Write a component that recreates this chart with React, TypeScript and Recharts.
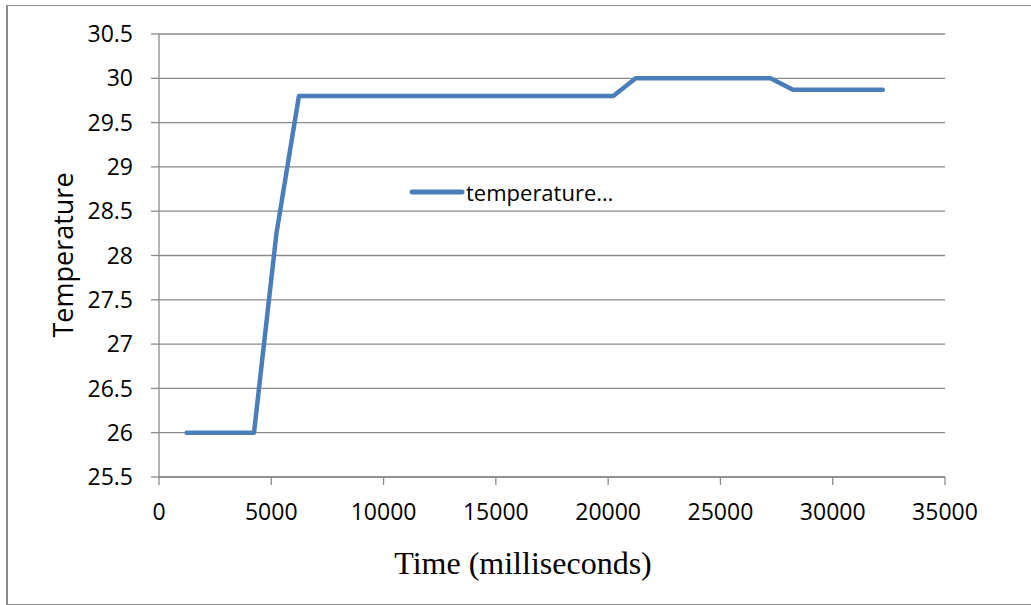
import React from "react";
import { LineChart, Line, XAxis, YAxis, CartesianGrid } from "recharts";

// Sample times (ms) and temperature readings
const times = [
  1230, 2230, 3230, 4230, 5230, 6230, 7230, 8230, 9230, 10230, 11230, 12230,
  13230, 14230, 15230, 16230, 17230, 18230, 19230, 20230, 21230, 22230, 23230,
  24230, 25230, 26230, 27230, 28230, 29230, 30230, 31230, 32230,
];
const temperatures = [
  26, 26, 26, 26, 28.25, 29.8, 29.8, 29.8, 29.8, 29.8, 29.8, 29.8, 29.8, 29.8,
  29.8, 29.8, 29.8, 29.8, 29.8, 29.8, 30, 30, 30, 30, 30, 30, 30, 29.87, 29.87,
  29.87, 29.87, 29.87,
];
const xTicks = [0, 5000, 10000, 15000, 20000, 25000, 30000, 35000];
const yTicks = [25.5, 26, 26.5, 27, 27.5, 28, 28.5, 29, 29.5, 30, 30.5];
const seriesName = "temperature…";

const data = times.map((t, i) => ({ time: t, temperature: temperatures[i] }));

const SERIES_COLOR = "#4a7ebb";
const AXIS_COLOR = "#8a8a8a";
const SANS = "'Open Sans', 'Noto Sans', sans-serif";

export default function App() {
  return (
    <div style={{ position: "absolute", left: 0, top: 0, width: 1031, height: 605, background: "#fff" }}>
      <div
        style={{
          position: "absolute",
          left: 6,
          top: 5,
          width: 1030,
          height: 598,
          borderTop: "1px solid #8c8c8c",
          borderBottom: "1px solid #8c8c8c",
          borderLeft: "2px solid #8c8c8c",
        }}
      />
      <LineChart
        width={1031}
        height={605}
        data={data}
        margin={{ top: 34, right: 86, bottom: 68, left: 79 }}
        style={{ position: "absolute", left: 0, top: 0 }}
      >
        <CartesianGrid horizontal vertical={false} stroke={AXIS_COLOR} strokeWidth={1.3} />
        <XAxis
          dataKey="time"
          type="number"
          domain={[0, 35000]}
          ticks={xTicks}
          height={60}
          tickSize={8}
          tickMargin={19}
          axisLine={{ stroke: AXIS_COLOR, strokeWidth: 1.3 }}
          tickLine={{ stroke: AXIS_COLOR, strokeWidth: 1.3 }}
          tick={{ fill: "#000", fontFamily: SANS, fontSize: 23 }}
          interval={0}
        />
        <YAxis
          type="number"
          domain={[25.5, 30.5]}
          ticks={yTicks}
          width={80}
          tickSize={8}
          tickMargin={18}
          axisLine={{ stroke: AXIS_COLOR, strokeWidth: 1.3 }}
          tickLine={{ stroke: AXIS_COLOR, strokeWidth: 1.3 }}
          tick={{ fill: "#000", fontFamily: SANS, fontSize: 23 }}
          interval={0}
        />
        <Line
          dataKey="temperature"
          name={seriesName}
          stroke={SERIES_COLOR}
          strokeWidth={4.5}
          strokeLinejoin="round"
          strokeLinecap="round"
          dot={false}
          activeDot={false}
          isAnimationActive={false}
        />
        {/* legend entry inside the plot */}
        <line x1={412} y1={192} x2={462} y2={192} stroke={SERIES_COLOR} strokeWidth={5} strokeLinecap="round" />
        <text x={466} y={192} dominantBaseline="central" fontFamily={SANS} fontSize={22} fill="#000">
          {seriesName}
        </text>
        <text
          x={62}
          y={255}
          transform="rotate(-90 62 255)"
          textAnchor="middle"
          dominantBaseline="central"
          fontFamily={SANS}
          fontSize={27}
          fill="#000"
        >
          Temperature
        </text>
        <text
          x={523}
          y={563}
          textAnchor="middle"
          dominantBaseline="central"
          fontFamily="'Liberation Serif', 'Times New Roman', serif"
          fontSize={32}
          fill="#000"
        >
          Time (milliseconds)
        </text>
      </LineChart>
    </div>
  );
}
